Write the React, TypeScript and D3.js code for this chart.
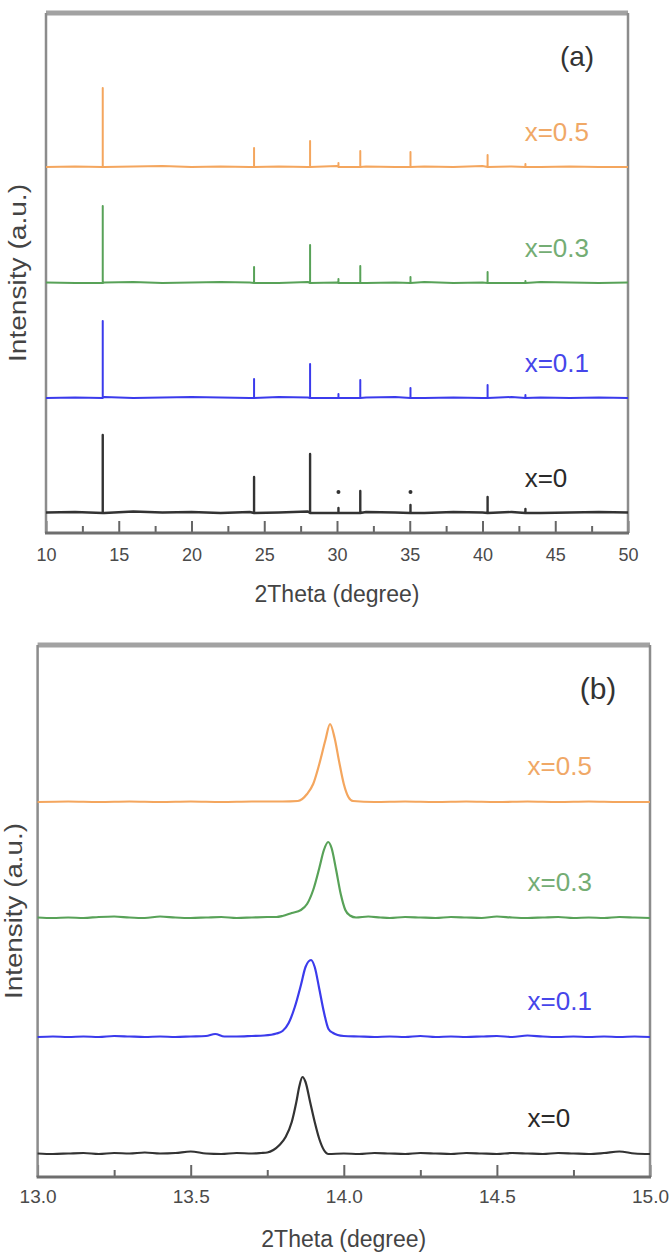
import React, { useEffect, useRef } from 'react';
import * as d3 from 'd3';

const seriesNames = ['x=0', 'x=0.1', 'x=0.3', 'x=0.5'];
const lineColors = ['#333333', '#3b3bec', '#58a258', '#f4a65e'];
const labelColors = ['#2a2a2a', '#4646ea', '#74ad74', '#f0a866'];

// panel (a): wide scan, peak positions (deg) and heights per sample
const peakPosA = [13.9, 24.3, 28.15, 30.1, 31.6, 35.05, 40.35, 42.95];
const peakHeightA = [
  [78, 36, 59, 5, 22, 8, 16, 4],
  [77, 19, 34, 4, 18, 10, 13, 3],
  [77, 16, 38, 4, 17, 6, 11, 2],
  [79, 19, 26, 4, 16, 15, 12, 3],
];
const baseXA = [10, 12, 14, 16, 18, 20, 22, 24, 26, 28, 30, 32, 34, 36, 38, 40, 42, 44, 46, 48, 50];
const baseNoiseA = [
  [0.5, 1, 0, 1.5, 0.5, 1, 0, 1, 0.5, 1.5, 0, 1, 0.5, 0, 1, 0.5, 1, 0, 0.5, 1, 0.5],
  [0, 0.5, 1, 0, 0.5, 1, 0.5, 0, 1, 0.5, 0, 0.5, 1, 0, 0.5, 0, 1, 0.5, 0, 0.5, 0],
  [0.5, 0, 0.5, 1, 0, 0.5, 1, 0.5, 0, 1, 0.5, 0, 0.5, 1, 0, 0.5, 0, 1, 0.5, 0, 0.5],
  [0, 0.5, 0, 0.5, 1, 0, 0.5, 0, 0.5, 0, 1, 0.5, 0, 0.5, 0, 1, 0.5, 0, 0.5, 0, 0],
];
const offsetA = [0, 115, 230, 346];
const starPosA = [30.1, 35.05];
const starHeightA = 21;
const majorTicksA = [10, 15, 20, 25, 30, 35, 40, 45, 50];
const minorTicksA = [12.5, 17.5, 22.5, 27.5, 32.5, 37.5, 42.5, 47.5];

// panel (b): zoom on the main reflection
const traceB: [number, number][][] = [
  [[13.0,0.5],[13.05,0],[13.1,0.5],[13.15,1],[13.2,0],[13.25,1],[13.3,0.5],[13.35,1.5],[13.4,0.5],[13.45,1],[13.5,2.5],[13.55,0.5],[13.6,0],[13.65,1],[13.7,0.5],[13.73,1],[13.75,1.5],[13.77,4],[13.79,9],[13.81,17],[13.83,32],[13.845,52],[13.855,68],[13.865,77],[13.875,72],[13.89,52],[13.905,32],[13.92,15],[13.935,4],[13.95,0],[14.0,0.5],[14.05,0],[14.1,1],[14.15,0.5],[14.2,0],[14.25,1],[14.3,0.5],[14.35,0],[14.4,1],[14.45,0.5],[14.5,0],[14.55,1],[14.6,0.5],[14.65,0],[14.7,1],[14.75,0.5],[14.8,0],[14.85,1],[14.9,2.5],[14.95,0.5],[15.0,0]],
  [[13.0,0],[13.05,0.5],[13.1,0],[13.15,0.5],[13.2,0],[13.25,1],[13.3,0.5],[13.35,0],[13.4,0.5],[13.45,0],[13.5,0.5],[13.55,1],[13.58,3],[13.61,0.5],[13.65,0.5],[13.7,1],[13.74,1.5],[13.78,3.5],[13.8,6],[13.82,14],[13.84,30],[13.86,52],[13.875,70],[13.893,77],[13.905,70],[13.92,48],[13.935,25],[13.95,8],[13.965,4],[13.98,2],[14.0,1],[14.05,0.5],[14.1,0],[14.15,0.5],[14.2,0],[14.25,1],[14.3,0],[14.35,0.5],[14.4,0],[14.45,0.5],[14.5,1],[14.55,0],[14.6,1.5],[14.65,0.5],[14.7,0],[14.75,0.5],[14.8,0],[14.85,0.5],[14.9,0],[14.95,0.5],[15.0,0]],
  [[13.0,0.5],[13.05,0],[13.1,0.5],[13.15,0],[13.2,1],[13.25,1.5],[13.3,0.5],[13.35,0],[13.4,1.5],[13.45,0.5],[13.5,0],[13.55,0.5],[13.6,1],[13.65,0],[13.7,0.5],[13.75,1],[13.78,1],[13.8,2],[13.83,5],[13.86,8],[13.88,14],[13.9,28],[13.92,50],[13.935,68],[13.949,76],[13.96,70],[13.975,48],[13.99,24],[14.005,8],[14.02,2.5],[14.04,0.5],[14.08,1.5],[14.12,0.5],[14.15,0],[14.2,1],[14.25,0.5],[14.3,0],[14.35,1],[14.4,0.5],[14.45,0],[14.5,1.5],[14.55,0.5],[14.6,0],[14.65,0.5],[14.7,1],[14.75,0],[14.8,0.5],[14.85,0],[14.9,1],[14.95,0.5],[15.0,0]],
  [[13.0,0],[13.1,0.5],[13.2,0],[13.3,0.5],[13.4,0],[13.5,0.5],[13.6,0],[13.7,0.5],[13.8,0.5],[13.85,1],[13.88,8],[13.9,18],[13.92,38],[13.94,62],[13.955,78],[13.97,64],[13.985,40],[14.0,18],[14.015,5],[14.03,1],[14.1,0],[14.2,0.5],[14.3,0],[14.4,0.5],[14.5,0],[14.6,0.5],[14.7,0],[14.8,0.5],[14.9,0],[15.0,0]],
];
const offsetB = [0, 117, 236, 352];
const majorTicksB = [13.0, 13.5, 14.0, 14.5, 15.0];
const minorTicksB = [13.25, 13.75, 14.25, 14.75];

const FONT = '"Liberation Sans", Arial, sans-serif';

const App = () => {
  const ref = useRef<SVGSVGElement>(null);

  useEffect(() => {
    const svg = d3.select(ref.current);
    svg.selectAll('*').remove();

    const drawPanel = (opts: any) => {
      const { x, y, major, minor, fmt, pad, tickFont, tag, tagX, tagY, tagSize, titleY, yLabelX, yLabelLen } = opts;
      const [x0, x1] = x.range();
      const [yb, yt] = y.range();
      const g = svg.append('g');

      // minor ticks
      g.append('g')
        .attr('transform', `translate(0,${yb})`)
        .call(d3.axisBottom(x).tickValues(minor).tickSize(-7).tickFormat(() => ''))
        .call((s: any) => s.select('.domain').remove())
        .selectAll('line').attr('stroke', '#666').attr('stroke-width', 2);

      const ax = g.append('g')
        .attr('transform', `translate(0,${yb})`)
        .call(d3.axisBottom(x).tickValues(major).tickSize(-12).tickPadding(pad).tickFormat(fmt))
        .call((s: any) => s.select('.domain').remove());
      ax.selectAll('line').attr('stroke', '#666').attr('stroke-width', 2);
      ax.selectAll('text').attr('fill', '#4a4a4a').style('font-family', FONT).style('font-size', `${tickFont}px`);

      // frame
      g.append('line').attr('x1', x0).attr('x2', x1).attr('y1', yt).attr('y2', yt).attr('stroke', '#a2a2a2').attr('stroke-width', 5);
      g.append('line').attr('x1', x0).attr('x2', x0).attr('y1', yt).attr('y2', yb).attr('stroke', '#8c8c8c').attr('stroke-width', 2.5);
      g.append('line').attr('x1', x1).attr('x2', x1).attr('y1', yt).attr('y2', yb).attr('stroke', '#8c8c8c').attr('stroke-width', 2.5);
      g.append('line').attr('x1', x0 - 1).attr('x2', x1 + 1).attr('y1', yb).attr('y2', yb).attr('stroke', '#6e6e6e').attr('stroke-width', 3);

      g.append('text')
        .attr('x', tagX).attr('y', tagY)
        .attr('text-anchor', 'middle').attr('dominant-baseline', 'central')
        .style('font-family', FONT).style('font-size', `${tagSize}px`).attr('fill', '#333')
        .text(tag);

      g.append('text')
        .attr('x', (x0 + x1) / 2).attr('y', titleY)
        .attr('text-anchor', 'middle')
        .style('font-family', FONT).style('font-size', '23px').attr('fill', '#444')
        .text('2Theta (degree)');

      g.append('text')
        .attr('transform', `translate(${yLabelX},${(yb + yt) / 2}) rotate(-90)`)
        .attr('text-anchor', 'middle').attr('dominant-baseline', 'central')
        .attr('textLength', yLabelLen).attr('lengthAdjust', 'spacingAndGlyphs')
        .style('font-family', FONT).style('font-size', '23px').attr('fill', '#444')
        .text('Intensity (a.u.)');

      return g;
    };

    // ---------- panel (a)
    const xA = d3.scaleLinear().domain([10, 50]).range([46, 628]);
    const yA = d3.scaleLinear().domain([-20, 500]).range([533, 13]);
    const gA = drawPanel({
      x: xA, y: yA, major: majorTicksA, minor: minorTicksA, fmt: d3.format('d'), pad: 15, tickFont: 18,
      tag: '(a)', tagX: 577, tagY: 56, tagSize: 28, titleY: 602, yLabelX: 18, yLabelLen: 178,
    });

    const lineA = d3.line<[number, number]>().x((d) => xA(d[0])).y((d) => yA(d[1]));
    seriesNames.forEach((name, i) => {
      const pts: [number, number][] = baseXA.map((bx, k) => [bx, baseNoiseA[i][k] + offsetA[i]]);
      peakPosA.forEach((p, j) => {
        pts.push([p, offsetA[i]], [p, offsetA[i] + peakHeightA[i][j]], [p, offsetA[i]]);
      });
      pts.sort((a, b) => a[0] - b[0]);
      gA.append('path')
        .datum(pts)
        .attr('d', lineA)
        .attr('fill', 'none')
        .attr('stroke', lineColors[i])
        .attr('stroke-width', i === 0 ? 2.4 : 2)
        .attr('stroke-linejoin', 'round');
      gA.append('text')
        .attr('x', xA(42.9)).attr('y', yA(offsetA[i]) - 35)
        .attr('dominant-baseline', 'central')
        .style('font-family', FONT).style('font-size', '26px').attr('fill', labelColors[i])
        .text(name);
    });
    gA.selectAll('circle.star')
      .data(starPosA)
      .enter()
      .append('circle')
      .attr('cx', (d) => xA(d))
      .attr('cy', yA(starHeightA))
      .attr('r', 2)
      .attr('fill', '#333');

    // ---------- panel (b)
    const xB = d3.scaleLinear().domain([13, 15]).range([37.6, 650]);
    const yB = d3.scaleLinear().domain([-23, 509]).range([1177, 645]);
    const gB = drawPanel({
      x: xB, y: yB, major: majorTicksB, minor: minorTicksB, fmt: d3.format('.1f'), pad: 13, tickFont: 19,
      tag: '(b)', tagX: 598, tagY: 688, tagSize: 30, titleY: 1247, yLabelX: 14, yLabelLen: 176,
    });

    const lineB = d3.line<[number, number]>().x((d) => xB(d[0])).y((d) => yB(d[1])).curve(d3.curveMonotoneX);
    seriesNames.forEach((name, i) => {
      gB.append('path')
        .datum(traceB[i].map((d) => [d[0], d[1] + offsetB[i]] as [number, number]))
        .attr('d', lineB)
        .attr('fill', 'none')
        .attr('stroke', lineColors[i])
        .attr('stroke-width', 2.2)
        .attr('stroke-linejoin', 'round');
      gB.append('text')
        .attr('x', xB(14.6)).attr('y', yB(offsetB[i]) - 36)
        .attr('dominant-baseline', 'central')
        .style('font-family', FONT).style('font-size', '26px').attr('fill', labelColors[i])
        .text(name);
    });
  }, []);

  return (
    <svg
      ref={ref}
      width={670}
      height={1253}
      style={{ position: 'absolute', left: 0, top: 0, background: '#fff' }}
    />
  );
};

export default App;
